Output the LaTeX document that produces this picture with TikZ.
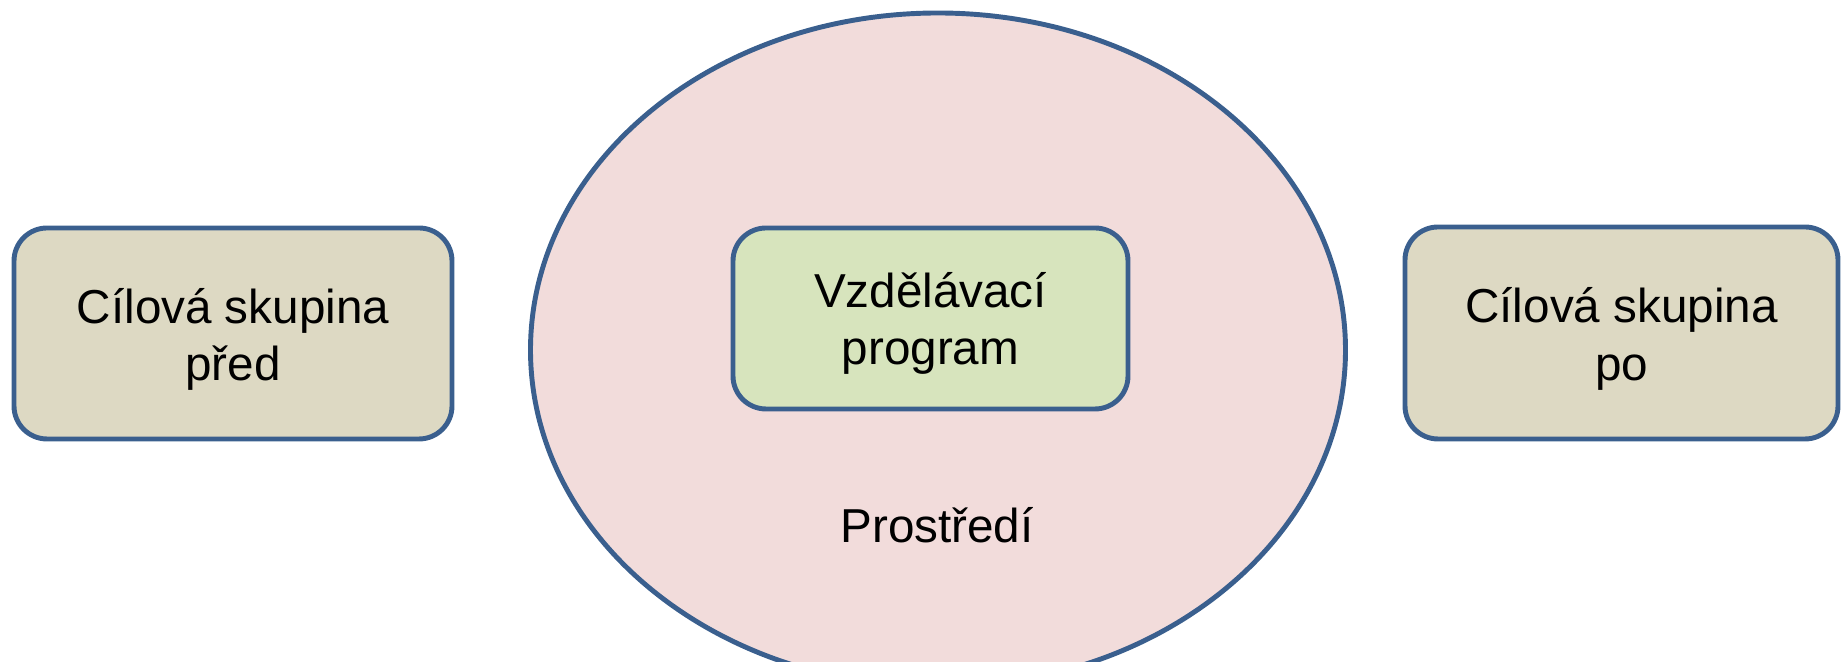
\documentclass[tikz,border=0pt]{standalone}
\usepackage{fontspec}
\setmainfont{Liberation Sans}
\usepackage{tikz}
\usetikzlibrary{shapes,positioning,calc}
\definecolor{boxline}{HTML}{3A5F8E}
\definecolor{groupfill}{HTML}{DDD9C3}
\definecolor{progfill}{HTML}{D7E4BD}
\definecolor{envfill}{HTML}{F2DCDB}

\begin{document}
\begin{tikzpicture} [
					every node/.style={font=\fontsize{13.55}{16.3}\selectfont},
					every label/.style={align=center,inner sep=0},
					groupbox/.style={rectangle,draw=boxline,fill=groupfill,line width=1.4pt,rounded corners=0.33cm,inner sep=0},
					progbox/.style={groupbox,fill=progfill},
					envshape/.style={ellipse,draw=boxline,fill=envfill,line width=1.4pt,inner sep=0},
				]
				\useasboundingbox (0,0) rectangle (18.41,6.62);
				
				\node[envshape,minimum width=8.15cm,minimum height=6.74cm] (env) at (9.38,3.12) {};
				\node[anchor=base] (envlabel) at (9.37,1.19) {Prostředí};
				
				% texts sit a little below the box centres
				\node[groupbox,minimum width=4.38cm,minimum height=2.11cm,
					label={[yshift=-0.06cm]center:Cílová skupina\\před}] (before) at (2.33,3.285) {};
				\node[progbox,minimum width=3.95cm,minimum height=1.81cm,
					label={[yshift=-0.05cm]center:Vzdělávací\\program}] (program) at (9.305,3.435) {};
				\node[groupbox,minimum width=4.33cm,minimum height=2.12cm,
					label={[yshift=-0.06cm]center:Cílová skupina\\po}] (after) at (16.215,3.29) {};
				
			\end{tikzpicture}
\end{document}
